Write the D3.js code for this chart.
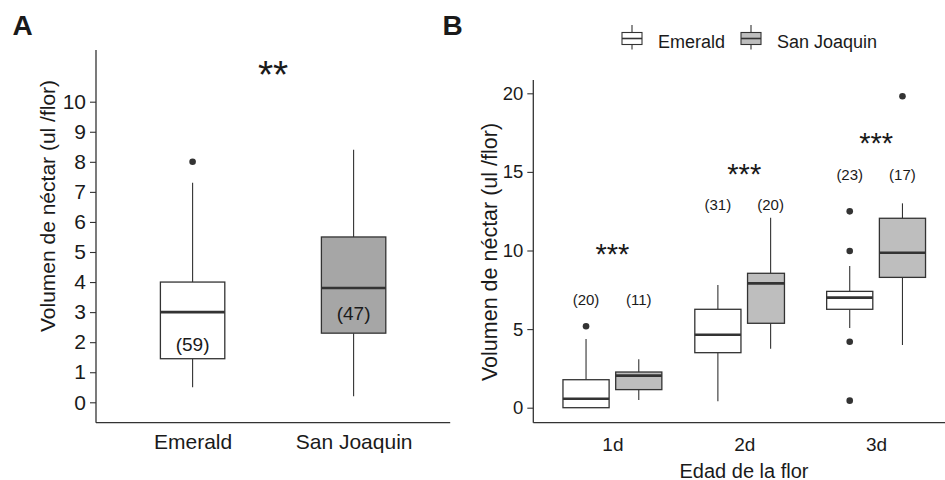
<!DOCTYPE html>
<html>
<head>
<meta charset="utf-8">
<script src="https://cdn.jsdelivr.net/npm/d3@7"></script>
<style>
  body { margin: 0; background: #fff; }
  svg { display: block; }
  text { font-family: Arial, "Liberation Sans", sans-serif; fill: #1a1a1a; }
</style>
</head>
<body>
<svg id="chart" width="945" height="480"></svg>
<script>
// ---- Panel A: nectar volume per flower, by cultivar ----
const cultivars = ["Emerald", "San Joaquin"];
// box statistics: [lower whisker, Q1, median, Q3, upper whisker]
const statsA = [
  [0.5, 1.45, 3.0, 4.0, 7.3],
  [0.2, 2.3, 3.8, 5.5, 8.4]
];
const outliersA = [[8.0], []];
const sampleSizeA = [59, 47];
const sampleLabelYA = [1.87, 2.9];
const signifA = "**";
const signifYA = 11.2;
const ticksA = [0, 1, 2, 3, 4, 5, 6, 7, 8, 9, 10];

// ---- Panel B: nectar volume per flower, by flower age and cultivar ----
const ages = ["1d", "2d", "3d"];
const statsBEmerald = [
  [0.0, 0.0, 0.57, 1.78, 4.37],
  [0.41, 3.5, 4.64, 6.26, 7.81],
  [5.07, 6.26, 7.0, 7.4, 9.01]
];
const statsBSanJoaquin = [
  [0.49, 1.15, 2.04, 2.27, 3.08],
  [3.75, 5.37, 7.91, 8.55, 12.09],
  [3.99, 8.29, 9.86, 12.05, 13.0]
];
const outliersBEmerald = [[5.18], [], [9.97, 12.49, 4.2, 0.45]];
const outliersBSanJoaquin = [[], [], [19.81]];
const sampleSizeBEmerald = [20, 31, 23];
const sampleSizeBSanJoaquin = [11, 20, 17];
const sampleLabelYB = [6.75, 12.8, 14.75];
const signifB = ["***", "***", "***"];
const signifYB = [10.2, 15.3, 17.25];
const ticksB = [0, 5, 10, 15, 20];

// ---- styling ----
const fills = { "Emerald": "#ffffff", "San Joaquin A": "#a6a6a6", "San Joaquin B": "#bebebe" };
const ink = "#333333";
const trimmedBox = { age: "2d", cultivar: "San Joaquin", factor: 0.8 };

const svg = d3.select("#chart");

function drawBox(g, cx, w, s, fill, outs, y, leftAligned) {
  const [lo, q1, med, q3, hi] = s;
  const x0 = cx - w / 2;
  const bw = w * (leftAligned || 1);
  g.append("line").attr("x1", cx).attr("x2", cx)
    .attr("y1", y(q3)).attr("y2", y(hi))
    .attr("stroke", ink).attr("stroke-width", 1.1);
  g.append("line").attr("x1", cx).attr("x2", cx)
    .attr("y1", y(q1)).attr("y2", y(lo))
    .attr("stroke", ink).attr("stroke-width", 1.1);
  g.append("rect").attr("x", x0).attr("width", bw)
    .attr("y", y(q3)).attr("height", y(q1) - y(q3))
    .attr("fill", fill).attr("stroke", ink).attr("stroke-width", 1.3);
  g.append("line").attr("x1", x0).attr("x2", x0 + bw)
    .attr("y1", y(med)).attr("y2", y(med))
    .attr("stroke", ink).attr("stroke-width", 2.6);
  outs.forEach(v => {
    g.append("circle").attr("cx", cx).attr("cy", y(v)).attr("r", 3.3).attr("fill", ink);
  });
}

function styleAxis(sel, fontSize) {
  sel.selectAll(".tick line").attr("stroke", ink).attr("stroke-width", 1.1);
  sel.selectAll(".tick text").attr("font-size", fontSize).attr("fill", "#1a1a1a")
    .style("font-family", 'Arial, "Liberation Sans", sans-serif');
}

// ================= Panel A =================
const xA = d3.scalePoint().domain(cultivars).range([96, 450.2]).padding(0.6);
const yA = d3.scaleLinear().domain([0, 10]).range([402.3, 101.7]);
const stepA = xA.step();
const gA = svg.append("g");

const yAxisA = gA.append("g").attr("transform", "translate(96,0)")
  .call(d3.axisLeft(yA).tickValues(ticksA).tickSize(6).tickPadding(4).tickFormat(d3.format("d")));
yAxisA.select(".domain").remove();
styleAxis(yAxisA, 21);
gA.append("line").attr("x1", 96).attr("x2", 96)
  .attr("y1", yA(11.72)).attr("y2", 422.7).attr("stroke", ink).attr("stroke-width", 1.3);

const xAxisA = gA.append("g").attr("transform", "translate(0,422.7)")
  .call(d3.axisBottom(xA).tickSize(0).tickPadding(11.7));
xAxisA.select(".domain").remove();
styleAxis(xAxisA, 21);
gA.append("line").attr("x1", 96).attr("x2", 450.2)
  .attr("y1", 422.7).attr("y2", 422.7).attr("stroke", ink).attr("stroke-width", 1.3);

cultivars.forEach((c, i) => {
  const fill = i === 0 ? fills["Emerald"] : fills["San Joaquin A"];
  drawBox(gA, xA(c), 0.4 * stepA, statsA[i], fill, outliersA[i], yA);
  gA.append("text").attr("x", xA(c)).attr("y", yA(sampleLabelYA[i]))
    .attr("dy", "0.26em").attr("text-anchor", "middle").attr("font-size", 19)
    .text(`(${sampleSizeA[i]})`);
});

gA.append("text")
  .attr("x", (xA(cultivars[0]) + xA(cultivars[1])) / 2)
  .attr("y", yA(signifYA)).attr("dy", "0.58em")
  .attr("text-anchor", "middle").attr("font-size", 39).text(signifA);

gA.append("text").attr("transform", "translate(55,206) rotate(-90)")
  .attr("text-anchor", "middle").attr("font-size", 21)
  .text("Volumen de néctar (ul /flor)");

svg.append("text").attr("x", 12.5).attr("y", 35).attr("font-size", 28)
  .attr("font-weight", "bold").attr("fill", "#000").text("A");

// ================= Panel B =================
const xB = d3.scalePoint().domain(ages).range([533.3, 955.2]).padding(0.6);
const yB = d3.scaleLinear().domain([0, 20]).range([407.7, 93.3]);
const stepB = xB.step();
const gB = svg.append("g");

const yAxisB = gB.append("g").attr("transform", "translate(533.3,0)")
  .call(d3.axisLeft(yB).tickValues(ticksB).tickSize(6).tickPadding(4).tickFormat(d3.format("d")));
yAxisB.select(".domain").remove();
styleAxis(yAxisB, 18.5);
gB.append("line").attr("x1", 533.3).attr("x2", 533.3)
  .attr("y1", 80).attr("y2", 422.7).attr("stroke", ink).attr("stroke-width", 1.3);

const xAxisB = gB.append("g").attr("transform", "translate(0,422.7)")
  .call(d3.axisBottom(xB).tickSize(0).tickPadding(14.5));
xAxisB.select(".domain").remove();
styleAxis(xAxisB, 19);
gB.append("line").attr("x1", 533.3).attr("x2", 955.2)
  .attr("y1", 422.7).attr("y2", 422.7).attr("stroke", ink).attr("stroke-width", 1.3);

const dodge = 0.2 * stepB;
const boxWB = 0.35 * stepB;
ages.forEach((a, i) => {
  const cE = xB(a) - dodge, cS = xB(a) + dodge;
  drawBox(gB, cE, boxWB, statsBEmerald[i], fills["Emerald"], outliersBEmerald[i], yB);
  const trim = (a === trimmedBox.age) ? trimmedBox.factor : 1;
  drawBox(gB, cS, boxWB, statsBSanJoaquin[i], fills["San Joaquin B"], outliersBSanJoaquin[i], yB, trim);
  gB.append("text").attr("x", cE).attr("y", yB(sampleLabelYB[i])).attr("dy", "0.26em")
    .attr("text-anchor", "middle").attr("font-size", 15).text(`(${sampleSizeBEmerald[i]})`);
  gB.append("text").attr("x", cS).attr("y", yB(sampleLabelYB[i])).attr("dy", "0.26em")
    .attr("text-anchor", "middle").attr("font-size", 15).text(`(${sampleSizeBSanJoaquin[i]})`);
  gB.append("text").attr("x", xB(a)).attr("y", yB(signifYB[i])).attr("dy", "0.58em")
    .attr("text-anchor", "middle").attr("font-size", 29).text(signifB[i]);
});

gB.append("text").attr("transform", "translate(497,252) rotate(-90)")
  .attr("text-anchor", "middle").attr("font-size", 21.5)
  .text("Volumen de néctar (ul /flor)");

gB.append("text").attr("x", 744).attr("y", 477.5).attr("text-anchor", "middle")
  .attr("font-size", 20).text("Edad de la flor");

svg.append("text").attr("x", 442.5).attr("y", 35).attr("font-size", 28)
  .attr("font-weight", "bold").attr("fill", "#000").text("B");

// ---- legend ----
const legend = svg.append("g");
const legendItems = [
  { name: cultivars[0], fill: fills["Emerald"], x: 622 },
  { name: cultivars[1], fill: fills["San Joaquin B"], x: 741 }
];
legendItems.forEach(it => {
  const cx = it.x + 10;
  legend.append("line").attr("x1", cx).attr("x2", cx).attr("y1", 25).attr("y2", 49.5)
    .attr("stroke", ink).attr("stroke-width", 1.1);
  legend.append("rect").attr("x", it.x).attr("y", 32.5).attr("width", 20).attr("height", 12)
    .attr("fill", it.fill).attr("stroke", ink).attr("stroke-width", 1.1);
  legend.append("line").attr("x1", it.x).attr("x2", it.x + 20).attr("y1", 38.5).attr("y2", 38.5)
    .attr("stroke", ink).attr("stroke-width", 1.6);
  legend.append("text").attr("x", it.x + 36).attr("y", 47.5).attr("font-size", 18).text(it.name);
});
</script>
</body>
</html>
